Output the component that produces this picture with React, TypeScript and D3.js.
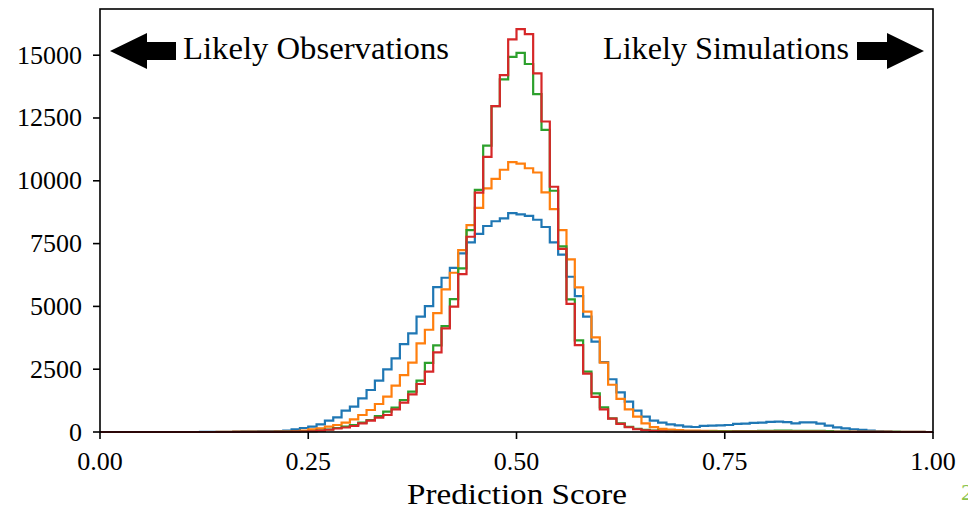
import React from "react";
import * as d3 from "d3";

// 100 bins over [0, 1]
const binEdges: number[] = d3.range(0, 101).map((i) => i / 100);

const blueCounts: number[] = [
  0, 0, 0, 0, 0, 0, 0, 0, 0, 0,
  1, 1, 2, 3, 4, 6, 8, 12, 16, 22,
  30, 40, 60, 106, 159, 212, 305, 451, 584, 849,
  1008, 1340, 1671, 2043, 2494, 2931, 3501, 3926, 4589, 5014,
  5770, 6141, 6530, 7109, 7547, 7890, 8200, 8390, 8503, 8715,
  8662, 8600, 8450, 8160, 7550, 7060, 6180, 5412, 4589, 3594,
  2780, 2100, 1580, 1207, 849, 610, 451, 371, 305, 265,
  212, 200, 245, 250, 265, 278, 320, 330, 360, 370,
  400, 411, 390, 345, 385, 380, 330, 252, 186, 146,
  110, 85, 55, 30, 15, 8, 5, 3, 2, 1,
];

const orangeCounts: number[] = [
  0, 0, 0, 0, 0, 0, 0, 0, 0, 0,
  0, 0, 1, 1, 2, 2, 3, 4, 6, 8,
  10, 15, 20, 30, 60, 106, 146, 212, 278, 371,
  504, 676, 875, 1114, 1406, 1843, 2268, 2759, 3528, 4070,
  4735, 5678, 6340, 7242, 8237, 8920, 9697, 10080, 10440, 10745,
  10680, 10500, 10330, 9540, 8870, 8038, 6872, 5757, 4789, 3767,
  2759, 1880, 1320, 900, 610, 345, 192, 126, 95, 75,
  60, 55, 50, 45, 40, 30, 25, 22, 20, 18,
  16, 15, 14, 13, 12, 11, 10, 9, 8, 7,
  6, 5, 5, 4, 4, 3, 3, 2, 2, 1,
];

const greenCounts: number[] = [
  0, 0, 0, 0, 0, 0, 0, 0, 0, 0,
  0, 0, 0, 0, 1, 1, 2, 2, 3, 4,
  5, 7, 10, 14, 20, 30, 60, 100, 159, 212,
  278, 371, 478, 637, 809, 968, 1273, 1605, 2043, 2750,
  3450, 4218, 5292, 6513, 8038, 9640, 11400, 12973, 14034, 14935,
  15094, 14650, 13450, 12030, 9603, 7390, 5280, 3650, 2401, 1540,
  981, 544, 340, 210, 130, 85, 55, 40, 30, 25,
  22, 22, 24, 26, 28, 30, 32, 34, 36, 45,
  50, 52, 52, 50, 50, 48, 45, 35, 20, 12,
  8, 5, 4, 3, 2, 2, 1, 1, 1, 0,
];

const redCounts: number[] = [
  0, 0, 0, 0, 0, 0, 0, 0, 0, 0,
  0, 0, 0, 0, 1, 1, 2, 2, 3, 4,
  5, 7, 10, 14, 20, 30, 55, 90, 140, 180,
  239, 345, 451, 570, 676, 902, 1167, 1499, 1910, 2401,
  3170, 4125, 4987, 6287, 7772, 9530, 10955, 12973, 14206, 15626,
  16037, 15838, 14273, 12360, 9762, 7290, 5100, 3462, 2320, 1400,
  902, 530, 320, 190, 110, 70, 45, 30, 20, 16,
  14, 12, 11, 10, 10, 10, 11, 12, 13, 14,
  15, 15, 15, 14, 14, 13, 12, 10, 8, 6,
  5, 4, 3, 2, 2, 1, 1, 1, 0, 0,
];

const seriesList = [
  { name: "blue", counts: blueCounts, color: "#1f77b4" },
  { name: "orange", counts: orangeCounts, color: "#ff7f0e" },
  { name: "green", counts: greenCounts, color: "#2ca02c" },
  { name: "red", counts: redCounts, color: "#d62728" },
];

const xTicks: number[] = [0, 0.25, 0.5, 0.75, 1.0];
const yTicks: number[] = [0, 2500, 5000, 7500, 10000, 12500, 15000];
const xLabel = "Prediction Score";
const leftNote = "Likely Observations";
const rightNote = "Likely Simulations";

const W = 968;
const H = 512;
const left = 100;
const right = 933;
const top = 9;
const bottom = 432;
const FONT = "'Liberation Serif', 'Times New Roman', serif";

export default function App() {
  const maxCount = d3.max(seriesList, (s) => d3.max(s.counts) as number) as number;
  const x = d3.scaleLinear().domain([0, 1]).range([left, right]);
  const y = d3.scaleLinear().domain([0, maxCount * 1.05]).range([bottom, top]);

  const line = d3
    .line<[number, number]>()
    .x((d) => x(d[0]))
    .y((d) => y(d[1]));

  const stepPoints = (counts: number[]): [number, number][] => {
    const pts: [number, number][] = [[binEdges[0], 0]];
    counts.forEach((c, i) => {
      pts.push([binEdges[i], c]);
      pts.push([binEdges[i + 1], c]);
    });
    pts.push([binEdges[binEdges.length - 1], 0]);
    return pts;
  };

  const arrowY = 51;
  const lArrow = [
    [110, arrowY],
    [147, arrowY - 18],
    [147, arrowY - 9],
    [176, arrowY - 9],
    [176, arrowY + 9],
    [147, arrowY + 9],
    [147, arrowY + 18],
  ];
  const rArrow = [
    [924, arrowY],
    [887, arrowY - 18],
    [887, arrowY - 9],
    [857, arrowY - 9],
    [857, arrowY + 9],
    [887, arrowY + 9],
    [887, arrowY + 18],
  ];

  return (
    <svg
      width={W}
      height={H}
      style={{ position: "absolute", left: 0, top: 0, background: "#fff" }}
      fontFamily={FONT}
    >
      <rect x={0} y={0} width={W} height={H} fill="#fff" />
      <defs>
        <clipPath id="plotclip">
          <rect x={left} y={top} width={right - left} height={bottom - top + 2} />
        </clipPath>
      </defs>
      <g clipPath="url(#plotclip)">
        {seriesList.map((s) => (
          <path
            key={s.name}
            d={line(stepPoints(s.counts)) || ""}
            fill="none"
            stroke={s.color}
            strokeWidth={2.2}
            strokeLinejoin="miter"
          />
        ))}
      </g>

      <rect
        x={left}
        y={top}
        width={right - left}
        height={bottom - top}
        fill="none"
        stroke="#000"
        strokeWidth={1.6}
      />

      {xTicks.map((t) => (
        <g key={"x" + t}>
          <line x1={x(t)} x2={x(t)} y1={bottom} y2={bottom + 7} stroke="#000" strokeWidth={1.6} />
          <text x={x(t)} y={bottom + 38} textAnchor="middle" fontSize={26} fill="#000">
            {d3.format(".2f")(t)}
          </text>
        </g>
      ))}

      {yTicks.map((t) => (
        <g key={"y" + t}>
          <line x1={left - 7} x2={left} y1={y(t)} y2={y(t)} stroke="#000" strokeWidth={1.6} />
          <text x={left - 18} y={y(t) + 8.5} textAnchor="end" fontSize={26} fill="#000">
            {t}
          </text>
        </g>
      ))}

      <text
        x={407}
        y={504}
        fontSize={30}
        fill="#000"
        textLength={220}
        lengthAdjust="spacingAndGlyphs"
      >
        {xLabel}
      </text>

      <polygon points={lArrow.map((p) => p.join(",")).join(" ")} fill="#000" />
      <polygon points={rArrow.map((p) => p.join(",")).join(" ")} fill="#000" />
      <text
        x={183}
        y={59}
        fontSize={31}
        fill="#000"
        textLength={266}
        lengthAdjust="spacingAndGlyphs"
      >
        {leftNote}
      </text>
      <text
        x={603}
        y={59}
        fontSize={31}
        fill="#000"
        textLength={246}
        lengthAdjust="spacingAndGlyphs"
      >
        {rightNote}
      </text>

      <text x={961} y={500} fontSize={24} fill="#8bc34a">
        2
      </text>
    </svg>
  );
}
